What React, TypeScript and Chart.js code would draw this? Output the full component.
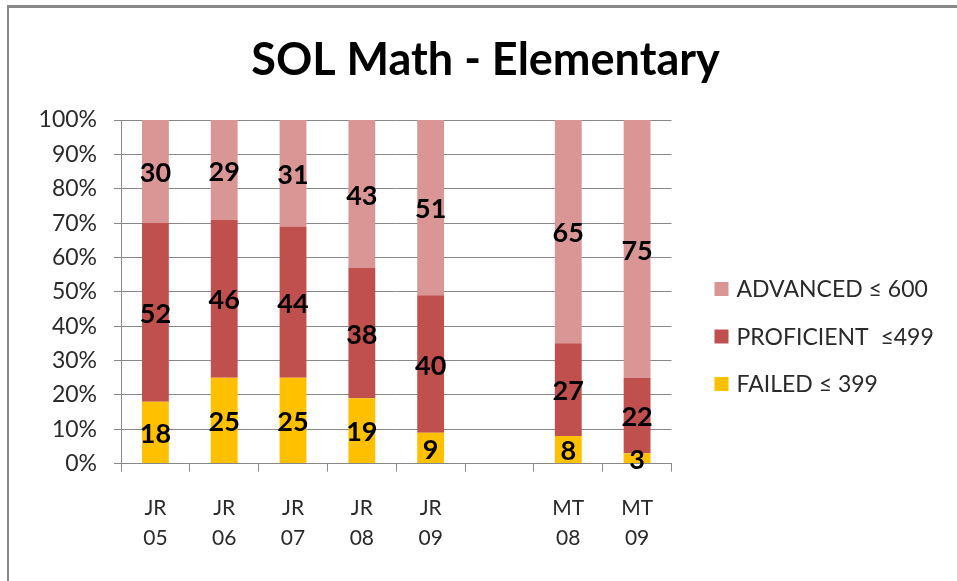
import React, { useEffect, useRef } from 'react';
import { Chart, registerables } from 'chart.js';

Chart.register(...registerables);

const categories: string[][] = [
  ['JR', '05'], ['JR', '06'], ['JR', '07'], ['JR', '08'], ['JR', '09'],
  ['', ''],
  ['MT', '08'], ['MT', '09'],
];
const failed: (number | null)[] = [18, 25, 25, 19, 9, null, 8, 3];
const proficient: (number | null)[] = [52, 46, 44, 38, 40, null, 27, 22];
const advanced: (number | null)[] = [30, 29, 31, 43, 51, null, 65, 75];
const seriesNames = ['FAILED ≤ 399', 'PROFICIENT  ≤499', 'ADVANCED ≤ 600'];
const seriesColors = ['#FFC000', '#C0504D', '#D99694'];
const titleText = 'SOL Math - Elementary';

const GRID = '#888888';
const TEXT = '#2a2a2a';

const dataLabels = {
  id: 'dataLabels',
  afterDatasetsDraw(chart: any) {
    const ctx = chart.ctx;
    ctx.save();
    ctx.font = 'bold 27px Lato';
    ctx.fillStyle = '#000';
    ctx.textAlign = 'center';
    ctx.textBaseline = 'middle';
    chart.data.datasets.forEach((ds: any, i: number) => {
      const meta = chart.getDatasetMeta(i);
      meta.data.forEach((el: any, j: number) => {
        const v = ds.data[j];
        if (v == null) return;
        const { x, y, base } = el.getProps(['x', 'y', 'base'], true);
        ctx.fillText(String(v), x, (y + base) / 2 + 2);
      });
    });
    ctx.restore();
  },
};

const sideLegend = {
  id: 'sideLegend',
  afterDraw(chart: any) {
    const { ctx, chartArea } = chart;
    const items = chart.data.datasets
      .map((d: any) => ({ text: d.label, color: d.backgroundColor }))
      .reverse();
    ctx.save();
    ctx.font = '23px Lato';
    ctx.textBaseline = 'middle';
    ctx.textAlign = 'left';
    items.forEach((it: any, k: number) => {
      const cy = chartArea.top + 169 + k * 47.5;
      const bx = chartArea.right + 43;
      ctx.fillStyle = it.color;
      ctx.fillRect(bx, cy - 7, 14, 14);
      ctx.fillStyle = TEXT;
      ctx.fillText(it.text, bx + 22, cy + 1);
    });
    ctx.restore();
  },
};

export default function App() {
  const ref = useRef<HTMLCanvasElement>(null);
  useEffect(() => {
    if (!ref.current) return;
    const series = [failed, proficient, advanced];
    const chart = new Chart(ref.current, {
      type: 'bar',
      data: {
        labels: categories,
        datasets: series.map((d, i) => ({
          label: seriesNames[i],
          data: d,
          backgroundColor: seriesColors[i],
          borderWidth: 0,
          barPercentage: 0.39,
          categoryPercentage: 1.0,
        })),
      },
      options: {
        animation: false,
        responsive: false,
        maintainAspectRatio: false,
        layout: { padding: { left: 14, right: 0, top: 0, bottom: 6.5 } },
        plugins: {
          legend: { display: false },
          tooltip: { enabled: false },
          title: {
            display: true,
            text: titleText,
            color: '#000',
            font: { family: 'Lato', size: 45, weight: 'bold' },
            padding: { top: 33, bottom: 33 },
          },
        },
        scales: {
          x: {
            stacked: true,
            grid: {
              display: true,
              drawOnChartArea: false,
              drawTicks: true,
              tickLength: 8,
              color: GRID,
              offset: true,
            },
            border: { display: true, color: GRID },
            ticks: {
              font: { family: 'Lato', size: 21, lineHeight: 1.45 },
              color: TEXT,
              padding: 21,
              maxRotation: 0,
              autoSkip: false,
            },
          },
          y: {
            stacked: true,
            min: 0,
            max: 100,
            ticks: {
              stepSize: 10,
              callback: (v: any) => v + '%',
              font: { family: 'Lato', size: 23 },
              color: TEXT,
              padding: 17,
            },
            grid: { color: GRID, tickLength: 7 },
            border: { color: GRID },
            afterFit: (s: any) => { s.width = 107; },
          },
          yRight: {
            type: 'linear',
            position: 'right',
            display: true,
            grid: { display: false, drawTicks: false },
            border: { display: false },
            ticks: { display: false },
            afterFit: (s: any) => { s.width = 285.5; },
          },
        },
      },
      plugins: [dataLabels, sideLegend],
    } as any);
    return () => chart.destroy();
  }, []);

  return (
    <div style={{ position: 'fixed', left: 0, top: 0, width: 957, height: 581, background: '#fff' }}>
      <canvas ref={ref} width={957} height={581} style={{ display: 'block' }} />
      <div
        style={{
          position: 'absolute', left: 7, top: 5, right: 0, bottom: 0,
          borderLeft: '2px solid #888', borderTop: '3px solid #888', pointerEvents: 'none',
        }}
      />
    </div>
  );
}
